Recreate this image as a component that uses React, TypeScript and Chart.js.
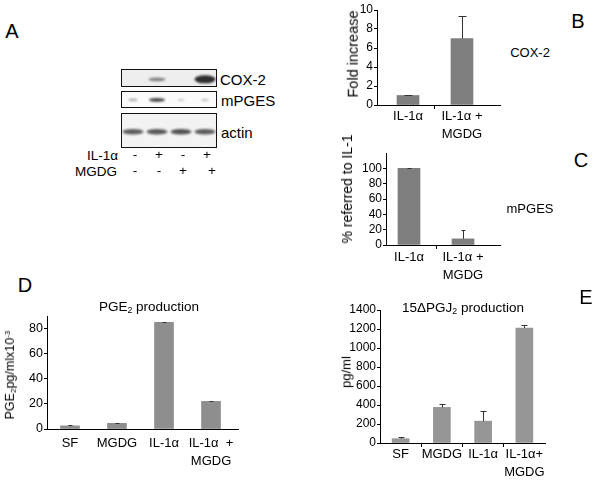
import React, { useEffect, useRef } from "react";
import { Chart, registerables } from "chart.js";
Chart.register(...registerables);

const FONT = "'Liberation Sans', Arial, sans-serif";
Chart.defaults.font.family = FONT;

// ---------- Panel A (western blot) ----------
const lanes = [1, 2, 3, 4];
const il1Signs = ["-", "+", "-", "+"];
const mgdgSigns = ["-", "-", "+", "+"];
const cox2Bands = [0, 0.55, 0, 1];
const mpgesBands = [0.35, 0.85, 0.2, 0.25];
const actinBands = [0.8, 0.82, 0.85, 0.8];

// ---------- Panel B (COX-2 fold increase) ----------
const bLabels = [["IL-1α"], ["IL-1α +", "MGDG"]];
const bValues = [1.0, 7.0];
const bErrors = [0.05, 2.35];

// ---------- Panel C (mPGES % referred to IL-1) ----------
const cLabels = [["IL-1α"], ["IL-1α +", "MGDG"]];
const cValues = [100, 8];
const cErrors = [0.6, 11];

// ---------- Panel D (PGE2 production) ----------
const dLabels = [["SF"], ["MGDG"], ["IL-1α"], ["IL-1α  +", "MGDG"]];
const dValues = [2.5, 4.5, 85, 22];
const dErrors = [0.3, 0.3, 0.3, 0.3];

// ---------- Panel E (15ΔPGJ2 production) ----------
const eLabels = [["SF"], ["MGDG"], ["IL-1α"], ["IL-1α+", "MGDG"]];
const eValues = [45, 375, 230, 1210];
const eErrors = [15, 35, 105, 35];

const errorPlugin = {
  id: "errbars",
  afterDatasetsDraw(chart: any, _args: any, opts: any) {
    const { ctx } = chart;
    const x = chart.scales.x;
    const y = chart.scales.y;
    const vals: number[] = opts.values || [];
    const errs: number[] = opts.errors || [];
    ctx.save();
    ctx.strokeStyle = opts.color || "#333";
    ctx.lineWidth = 1;
    vals.forEach((v, i) => {
      const px = Math.round(x.getPixelForValue(i)) + 0.5;
      const top = y.getPixelForValue(v);
      const et = Math.round(y.getPixelForValue(v + errs[i])) + 0.5;
      ctx.beginPath();
      ctx.moveTo(px, top);
      ctx.lineTo(px, et);
      ctx.moveTo(px - opts.cap / 2, et);
      ctx.lineTo(px + opts.cap / 2, et);
      ctx.stroke();
    });
    ctx.restore();
  },
};

type BarProps = {
  area: { l: number; t: number; r: number; b: number };
  xMin: number;
  xMax: number;
  labels: string[][];
  values: number[];
  errors: number[];
  yMax: number;
  yStep: number;
  yShowMax: number;
  color: string;
  barWidth: number;
  cap: number;
  boundaries: number[];
  tickFont: number;
  labelFont: number;
  labelPad: number;
};

function BarPanel(p: BarProps) {
  const ref = useRef<HTMLCanvasElement>(null);
  const yW = 42,
    xH = 46,
    padT = 10,
    padR = 8;
  const left = p.area.l - yW;
  const top = p.area.t - padT;
  const width = p.area.r + padR - left;
  const height = p.area.b + xH - top;
  useEffect(() => {
    const positions = p.values.map((_, i) => i);
    const chart = new Chart(ref.current as HTMLCanvasElement, {
      type: "bar",
      data: {
        datasets: [
          {
            data: positions.map((x, i) => ({ x, y: p.values[i] })) as any,
            backgroundColor: p.color,
            borderWidth: 0,
            barThickness: p.barWidth,
          },
        ],
      },
      options: {
        animation: false,
        responsive: false,
        maintainAspectRatio: false,
        layout: { padding: { top: padT, right: padR, left: 0, bottom: 0 } },
        plugins: {
          legend: { display: false },
          tooltip: { enabled: false },
          errbars: { values: p.values, errors: p.errors, cap: p.cap, color: "#333" },
        } as any,
        scales: {
          x: {
            type: "linear",
            min: p.xMin,
            max: p.xMax,
            offset: false,
            afterBuildTicks: (s: any) => {
              s.ticks = [...positions, ...p.boundaries]
                .sort((a, b) => a - b)
                .map((v) => ({ value: v }));
            },
            afterFit: (s: any) => {
              s.height = xH;
            },
            grid: {
              offset: false,
              drawOnChartArea: false,
              drawTicks: true,
              tickLength: 4,
              lineWidth: 1,
              color: (c: any) =>
                c.tick && p.boundaries.includes(c.tick.value) ? "#000" : "rgba(0,0,0,0)",
            },
            border: { color: "#000", width: 1 },
            ticks: {
              autoSkip: false,
              maxRotation: 0,
              minRotation: 0,
              padding: p.labelPad,
              color: "#000",
              font: { size: p.labelFont, family: FONT, lineHeight: 1.4 },
              callback: (v: any) => {
                const i = positions.indexOf(v);
                return i >= 0 ? p.labels[i] : "";
              },
            },
          } as any,
          y: {
            type: "linear",
            min: 0,
            max: p.yMax,
            afterBuildTicks: (s: any) => {
              const t = [];
              for (let v = 0; v <= p.yShowMax + 1e-9; v += p.yStep) t.push({ value: v });
              s.ticks = t;
            },
            afterFit: (s: any) => {
              s.width = yW;
            },
            grid: { drawOnChartArea: false, drawTicks: true, tickLength: 3, color: "#000" },
            border: { color: "#000", width: 1 },
            ticks: {
              padding: 1,
              color: "#000",
              font: { size: p.tickFont, family: FONT },
              callback: (v: any) => String(v),
            },
          } as any,
        },
      },
      plugins: [errorPlugin as any],
    });
    return () => chart.destroy();
  }, []);
  return (
    <canvas
      ref={ref}
      width={width}
      height={height}
      style={{ position: "absolute", left, top, width, height }}
    />
  );
}

type StripProps = {
  top: number;
  height: number;
  bands: number[];
  bg: string;
  yOff: number;
  bandW: (i: number) => number;
  bandH: (i: number) => number;
  shade: number;
};

const BLOT_LEFT = 121;
const BLOT_W = 96;

function BlotStrip(p: StripProps) {
  const ref = useRef<HTMLCanvasElement>(null);
  useEffect(() => {
    const bandPlugin = {
      id: "bands",
      beforeDatasetsDraw(chart: any) {
        const { ctx, chartArea } = chart;
        const x = chart.scales.x;
        const y = chart.scales.y;
        ctx.save();
        ctx.fillStyle = p.bg;
        ctx.fillRect(chartArea.left, chartArea.top, chartArea.width, chartArea.height);
        ctx.filter = "blur(0.9px)";
        p.bands.forEach((I, i) => {
          if (I <= 0) return;
          const cx = x.getPixelForValue(lanes[i]);
          const cy = y.getPixelForValue(p.yOff);
          const w = p.bandW(I);
          const h = p.bandH(I);
          ctx.fillStyle = `rgba(${p.shade},${p.shade},${p.shade},${Math.min(1, I)})`;
          ctx.beginPath();
          ctx.ellipse(cx, cy, w / 2, h / 2, 0, 0, Math.PI * 2);
          ctx.fill();
        });
        ctx.filter = "none";
        ctx.strokeStyle = "#111";
        ctx.lineWidth = 1;
        ctx.strokeRect(chartArea.left + 0.5, chartArea.top + 0.5, chartArea.width - 1, chartArea.height - 1);
        ctx.restore();
      },
    };
    const chart = new Chart(ref.current as HTMLCanvasElement, {
      type: "scatter",
      data: {
        datasets: [{ data: lanes.map((l) => ({ x: l, y: 0 })), pointRadius: 0 }],
      },
      options: {
        animation: false,
        responsive: false,
        maintainAspectRatio: false,
        layout: { padding: 0 },
        plugins: { legend: { display: false }, tooltip: { enabled: false } },
        scales: {
          x: { type: "linear", min: 0.5, max: 4.5, display: false },
          y: { type: "linear", min: -1, max: 1, display: false },
        },
      },
      plugins: [bandPlugin as any],
    });
    return () => chart.destroy();
  }, []);
  return (
    <canvas
      ref={ref}
      width={BLOT_W}
      height={p.height}
      style={{ position: "absolute", left: BLOT_LEFT, top: p.top, width: BLOT_W, height: p.height }}
    />
  );
}

function T(props: {
  x: number;
  y: number;
  size: number;
  children: any;
  rotate?: number;
  anchor?: "center" | "left" | "right";
}) {
  const a = props.anchor || "center";
  const tx = a === "center" ? "-50%" : a === "right" ? "-100%" : "0";
  return (
    <div
      style={{
        position: "absolute",
        left: props.x,
        top: props.y,
        transform: `translate(${tx}, -50%)${props.rotate ? ` rotate(${props.rotate}deg)` : ""}`,
        fontSize: props.size,
        whiteSpace: "pre",
        lineHeight: 1,
        fontFamily: FONT,
        color: "#000",
      }}
    >
      {props.children}
    </div>
  );
}

const subStyle = { fontSize: "0.65em", verticalAlign: "-0.25em" };
const supStyle = { fontSize: "0.65em", verticalAlign: "0.5em" };

export default function App() {
  const laneX = (l: number) => BLOT_LEFT + (l - 0.5) * (BLOT_W / 4);
  return (
    <div
      style={{
        position: "absolute",
        left: 0,
        top: 0,
        width: 600,
        height: 480,
        background: "#fff",
        overflow: "hidden",
        fontFamily: FONT,
      }}
    >
      {/* Panel A */}
      <T x={12} y={31} size={20}>A</T>
      <BlotStrip
        top={69}
        height={18}
        bands={cox2Bands}
        bg="#eeeeee"
        yOff={-0.15}
        shade={45}
        bandW={(I) => 12 + 9 * I}
        bandH={(I) => 2 + 6 * I * I}
      />
      <BlotStrip
        top={91}
        height={17}
        bands={mpgesBands}
        bg="#fbfbfb"
        yOff={-0.05}
        shade={40}
        bandW={(I) => 4 + 14 * I}
        bandH={(I) => 2 + 2 * I}
      />
      <BlotStrip
        top={113}
        height={35}
        bands={actinBands}
        bg="#f3f3f3"
        yOff={-0.07}
        shade={55}
        bandW={() => 21}
        bandH={() => 5.5}
      />
      <T x={220} y={79} size={15} anchor="left">COX-2</T>
      <T x={221} y={100} size={15} anchor="left">mPGES</T>
      <T x={221} y={132} size={15} anchor="left">actin</T>
      <T x={118} y={156} size={13.5} anchor="right">IL-1α</T>
      <T x={117} y={172} size={13.5} anchor="right">MGDG</T>
      {il1Signs.map((s, i) => (
        <T key={"il" + i} x={laneX(lanes[i]) + 2} y={155} size={13.5}>{s}</T>
      ))}
      {mgdgSigns.map((s, i) => (
        <T key={"mg" + i} x={laneX(lanes[i]) + 2 + (i === 3 ? 5 : 0)} y={171} size={13.5}>{s}</T>
      ))}

      {/* Panel B */}
      <BarPanel
        area={{ l: 377, t: 10, r: 500, b: 105 }}
        xMin={-0.574}
        xMax={1.704}
        labels={bLabels}
        values={bValues}
        errors={bErrors}
        yMax={10}
        yStep={2}
        yShowMax={10}
        color="#7e7e7e"
        barWidth={22}
        cap={8}
        boundaries={[0.5]}
        tickFont={12}
        labelFont={13}
        labelPad={-2}
      />
      <T x={353} y={54} size={14.5} rotate={-90}>Fold increase</T>
      <T x={578} y={21} size={20}>B</T>
      <T x={530} y={52} size={13}>COX-2</T>

      {/* Panel C */}
      <BarPanel
        area={{ l: 386, t: 153, r: 500, b: 245 }}
        xMin={-0.426}
        xMax={1.685}
        labels={cLabels}
        values={cValues}
        errors={cErrors}
        yMax={120}
        yStep={20}
        yShowMax={100}
        color="#7e7e7e"
        barWidth={22}
        cap={4}
        boundaries={[0.5]}
        tickFont={12}
        labelFont={13}
        labelPad={-1}
      />
      <T x={347} y={189} size={14} rotate={-90}>% referred to IL-1</T>
      <T x={581} y={160} size={20}>C</T>
      <T x={530} y={208} size={13}>mPGES</T>

      {/* Panel D */}
      <BarPanel
        area={{ l: 47, t: 316, r: 238, b: 429 }}
        xMin={-0.489}
        xMax={3.574}
        labels={dLabels}
        values={dValues}
        errors={dErrors}
        yMax={90}
        yStep={20}
        yShowMax={80}
        color="#8e8e8e"
        barWidth={19}
        cap={4}
        boundaries={[]}
        tickFont={12.5}
        labelFont={13}
        labelPad={1}
      />
      <T x={25} y={285} size={20}>D</T>
      <T x={149} y={307} size={13.5}>
        PGE<span style={subStyle}>2</span> production
      </T>
      <T x={11} y={375} size={12.5} rotate={-90}>
        PGE<span style={subStyle}>2</span>pg/mlx10<span style={supStyle}>-3</span>
      </T>

      {/* Panel E */}
      <BarPanel
        area={{ l: 380, t: 310, r: 545, b: 443 }}
        xMin={-0.5}
        xMax={3.5}
        labels={eLabels}
        values={eValues}
        errors={eErrors}
        yMax={1400}
        yStep={200}
        yShowMax={1400}
        color="#969696"
        barWidth={17}
        cap={6}
        boundaries={[0.5, 1.5, 2.5]}
        tickFont={12}
        labelFont={13}
        labelPad={-2}
      />
      <T x={586} y={297} size={20}>E</T>
      <T x={463} y={308} size={13.5}>
        15ΔPGJ<span style={subStyle}>2</span> production
      </T>
      <T x={346} y={372} size={13} rotate={-90}>pg/ml</T>
    </div>
  );
}
